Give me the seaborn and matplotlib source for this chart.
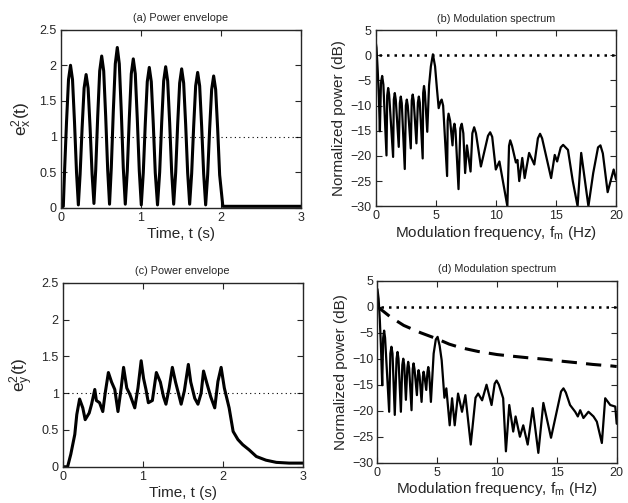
import numpy as np
import matplotlib
matplotlib.use("Agg")
import matplotlib.pyplot as plt
import seaborn as sns

sns.set_style("ticks")
plt.rcParams["font.family"] = ["Liberation Sans", "DejaVu Sans"]
plt.rcParams["mathtext.fontset"] = "custom"
plt.rcParams["mathtext.rm"] = "Liberation Sans"
plt.rcParams["mathtext.it"] = "Liberation Sans"
plt.rcParams["mathtext.default"] = "regular"
plt.rcParams["axes.linewidth"] = 1.0

#### (a) power envelope, input x ####
t_a = [0.0, 0.03, 0.045, 0.07, 0.095, 0.12, 0.145, 0.17, 0.195, 0.218,
       0.24, 0.265, 0.29, 0.315, 0.34, 0.365, 0.39, 0.413,
       0.435, 0.46, 0.485, 0.51, 0.535, 0.56, 0.585, 0.608,
       0.63, 0.655, 0.68, 0.705, 0.73, 0.755, 0.78, 0.805,
       0.83, 0.855, 0.88, 0.905, 0.93, 0.955, 0.98, 1.005,
       1.03, 1.055, 1.08, 1.105, 1.13, 1.155, 1.18, 1.208,
       1.235, 1.26, 1.285, 1.31, 1.335, 1.36, 1.385, 1.41,
       1.435, 1.46, 1.485, 1.51, 1.535, 1.56, 1.585, 1.61,
       1.635, 1.66, 1.685, 1.71, 1.735, 1.76, 1.785, 1.81,
       1.835, 1.86, 1.885, 1.91, 1.935, 1.96, 1.985, 2.025, 3.0]
e_a = [0.0, 0.02, 0.50, 1.20, 1.80, 2.00, 1.80, 1.20, 0.50, 0.04,
       0.47, 1.12, 1.68, 1.87, 1.68, 1.12, 0.47, 0.06,
       0.53, 1.28, 1.92, 2.13, 1.92, 1.28, 0.53, 0.05,
       0.56, 1.35, 2.02, 2.25, 2.02, 1.35, 0.56, 0.05,
       0.52, 1.25, 1.88, 2.09, 1.88, 1.25, 0.52, 0.04,
       0.49, 1.18, 1.77, 1.97, 1.77, 1.18, 0.49, 0.04,
       0.50, 1.19, 1.78, 1.98, 1.78, 1.19, 0.50, 0.05,
       0.49, 1.17, 1.75, 1.95, 1.75, 1.17, 0.49, 0.05,
       0.48, 1.14, 1.71, 1.90, 1.71, 1.14, 0.48, 0.04,
       0.46, 1.11, 1.66, 1.85, 1.66, 1.11, 0.46, 0.02, 0.02]

#### (c) power envelope, output y ####
t_c = [0.0, 0.06, 0.1, 0.15, 0.175, 0.21, 0.25, 0.28, 0.33, 0.36, 0.4, 0.42,
       0.46, 0.5, 0.53, 0.57, 0.61, 0.65, 0.69, 0.73, 0.76, 0.8, 0.84, 0.9,
       0.94, 0.98, 1.01, 1.04, 1.07, 1.12, 1.17, 1.22, 1.26, 1.29, 1.33, 1.37,
       1.41, 1.45, 1.48, 1.52, 1.57, 1.6, 1.65, 1.69, 1.73, 1.76, 1.8, 1.85,
       1.9, 1.94, 1.98, 2.02, 2.08, 2.13, 2.19, 2.25, 2.33, 2.42, 2.54, 2.67,
       2.83, 3.0]
e_c = [0.0, 0.0, 0.17, 0.44, 0.71, 0.92, 0.8, 0.64, 0.73, 0.85, 1.05, 0.9,
       0.87, 0.75, 1.0, 1.28, 1.15, 1.05, 0.75, 1.07, 1.35, 1.07, 0.98, 0.8,
       1.07, 1.44, 1.2, 1.05, 0.87, 0.9, 1.28, 1.15, 0.95, 0.85, 1.07, 1.35,
       1.15, 0.98, 0.85, 1.03, 1.39, 1.15, 0.93, 0.85, 1.0, 1.3, 1.14, 0.95,
       0.8, 1.16, 1.35, 1.07, 0.8, 0.48, 0.37, 0.3, 0.23, 0.14, 0.09, 0.06,
       0.05, 0.05]

#### (b) modulation spectrum of x ####
f_b = [0.0, 0.08, 0.18, 0.28, 0.36, 0.45, 0.55, 0.65, 0.91, 0.97, 1.05, 1.13,
       1.46, 1.52, 1.6, 1.68, 1.93, 2.02, 2.1, 2.18, 2.43, 2.52, 2.6, 2.68,
       2.93, 3.01, 3.09, 3.17, 3.4, 3.52, 3.6, 3.68, 3.92, 3.96, 4.03, 4.1,
       4.3, 4.45, 4.6, 4.77, 4.95, 5.1, 5.25, 5.4, 5.5, 5.62, 5.95, 6.0,
       6.07, 6.2, 6.4, 6.48, 6.56, 6.65, 6.9, 7.05, 7.17, 7.3, 7.45, 7.6,
       7.9, 8.05, 8.2, 8.35, 8.76, 9.35, 9.53, 9.7, 10.0, 10.3, 10.96, 11.1,
       11.2, 11.35, 11.67, 11.8, 11.95, 12.2, 12.4, 12.77, 13.2, 13.5, 13.68, 13.85,
       14.6, 14.9, 15.1, 15.4, 15.6, 16.0, 16.4, 16.8, 17.1, 17.7, 18.1, 18.5,
       18.7, 18.9, 19.3, 19.8, 20.0]
p_b = [2.9, 1.5, -3.0, -8.5, -15.1, -5.5, -4.1, -5.8, -19.9, -8.0, -6.5, -7.8,
       -20.2, -8.8, -7.5, -8.8, -18.2, -9.5, -8.2, -9.5, -22.6, -10.0, -8.8, -10.0,
       -18.5, -9.0, -7.8, -9.0, -17.5, -9.4, -8.2, -9.4, -20.5, -7.5, -6.1, -7.3,
       -15.2, -6.0, -2.2, 0.2, -2.2, -6.5, -10.5, -9.2, -8.8, -10.0, -24.0, -13.0,
       -11.6, -13.0, -17.9, -14.5, -13.6, -15.0, -26.6, -14.5, -13.6, -15.5, -23.4, -17.9,
       -23.1, -15.5, -14.3, -15.5, -22.1, -16.0, -15.3, -16.2, -22.7, -21.1, -30.0, -18.0,
       -16.9, -18.0, -21.3, -20.8, -25.0, -20.4, -24.4, -19.4, -21.7, -16.5, -15.6, -16.5,
       -24.4, -19.8, -21.1, -18.3, -17.8, -18.8, -25.0, -30.0, -19.4, -30.0, -23.4, -18.3,
       -17.9, -19.5, -27.2, -22.7, -24.7]

#### (d) modulation spectrum of y ####
f_d = [0.0, 0.1, 0.2, 0.3, 0.4, 0.48, 0.56, 0.64, 0.98, 1.08, 1.17, 1.26,
       1.45, 1.6, 1.68, 1.76, 1.96, 2.08, 2.16, 2.24, 2.38, 2.5, 2.57, 2.65,
       2.85, 2.95, 3.02, 3.1, 3.3, 3.38, 3.44, 3.52, 3.69, 3.8, 3.86, 3.94,
       4.08, 4.18, 4.25, 4.32, 4.47, 4.7, 4.88, 5.03, 5.2, 5.37, 5.6, 5.76,
       6.04, 6.24, 6.46, 6.74, 7.07, 7.35, 7.8, 8.2, 8.42, 8.75, 9.12, 9.54,
       9.8, 9.96, 10.15, 10.51, 10.74, 11.02, 11.35, 11.55, 11.91, 12.19, 12.56, 12.98,
       13.45, 13.87, 14.51, 15.35, 15.55, 15.75, 16.1, 16.53, 16.75, 16.95, 17.22, 17.64,
       18.06, 18.34, 18.76, 19.04, 19.46, 19.88, 20.0]
p_d = [3.4, 1.5, -2.5, -8.0, -15.1, -6.0, -4.6, -6.0, -20.2, -9.0, -7.7, -9.0,
       -20.8, -10.0, -8.7, -10.0, -20.2, -11.2, -10.0, -11.2, -17.9, -11.8, -10.6, -11.8,
       -19.9, -12.0, -10.9, -12.0, -17.0, -13.2, -12.2, -13.2, -18.3, -13.5, -12.5, -13.5,
       -16.0, -12.6, -11.6, -12.6, -18.3, -9.0, -6.3, -5.8, -7.5, -10.3, -17.5, -15.7,
       -22.8, -17.6, -22.8, -16.7, -20.2, -17.0, -26.5, -17.5, -16.7, -18.0, -15.0, -18.9,
       -14.8, -14.2, -15.0, -17.6, -27.8, -18.9, -24.0, -21.1, -25.0, -22.8, -26.5, -19.5,
       -28.1, -18.5, -25.2, -16.3, -15.7, -16.5, -18.9, -20.2, -21.1, -19.9, -21.4, -20.2,
       -21.1, -22.1, -26.2, -17.6, -18.9, -19.2, -22.5]

# dashed reference curve in (d)
f_ref = [0.0, 0.5, 1.1, 2.2, 3.6, 5.0, 6.0, 7.0, 8.4, 10.0, 11.2, 12.5,
         14.0, 15.5, 16.8, 18.0, 19.6, 20.0]
p_ref = [0.0, -0.9, -2.0, -3.6, -5.0, -6.2, -7.2, -7.9, -8.6, -9.2, -9.5, -9.8,
         -10.1, -10.5, -10.8, -11.1, -11.4, -11.5]


def style_axes(ax):
    ax.tick_params(direction="in", top=True, right=True, length=4, width=0.8,
                   labelsize=9, pad=3)
    for s in ax.spines.values():
        s.set_visible(True)
        s.set_linewidth(1.0)


def envelope(ax, t, e, title, ylab):
    sns.lineplot(x=t, y=e, ax=ax, color="k", lw=2.2, sort=False, estimator=None)
    ax.axhline(1.0, color="k", lw=0.8, ls=(0, (1, 3)))
    ax.set_xlim(0, 3)
    ax.set_ylim(0, 2.5)
    ax.set_xticks([0, 1, 2, 3])
    ax.set_yticks([0, 0.5, 1, 1.5, 2, 2.5])
    ax.set_yticklabels(["0", "0.5", "1", "1.5", "2", "2.5"])
    ax.set_xlabel("Time, t (s)", fontsize=11, labelpad=2)
    ax.set_ylabel(ylab, fontsize=12.5, labelpad=4)
    ax.set_title(title, fontsize=7.8, pad=6)
    style_axes(ax)


def spectrum(ax, f, p, title):
    sns.lineplot(x=f, y=p, ax=ax, color="k", lw=1.6, sort=False, estimator=None)
    ax.plot([0.3, 20], [0, 0], color="k", lw=1.8, ls=(0, (1, 2)))
    ax.set_xlim(0, 20)
    ax.set_ylim(-30, 5)
    ax.set_xticks([0, 5, 10, 15, 20])
    ax.set_yticks([-30, -25, -20, -15, -10, -5, 0, 5])
    ax.set_xlabel(r"Modulation frequency, $f_m$ (Hz)", fontsize=11, labelpad=1)
    ax.set_ylabel("Normalized power (dB)", fontsize=11, labelpad=3)
    ax.set_title(title, fontsize=7.8, pad=6)
    style_axes(ax)


fig = plt.figure(figsize=(6.28, 5.03), dpi=100)
ax_a = fig.add_axes([0.097, 0.587, 0.382, 0.354])
ax_b = fig.add_axes([0.598, 0.590, 0.383, 0.350])
ax_c = fig.add_axes([0.100, 0.072, 0.382, 0.366])
ax_d = fig.add_axes([0.601, 0.080, 0.381, 0.362])

envelope(ax_a, t_a, e_a, "(a) Power envelope", r"$e_x^2(t)$")
spectrum(ax_b, f_b, p_b, "(b) Modulation spectrum")
envelope(ax_c, t_c, e_c, "(c) Power envelope", r"$e_y^2(t)$")
spectrum(ax_d, f_d, p_d, "(d) Modulation spectrum")
sns.lineplot(x=f_ref, y=p_ref, ax=ax_d, color="k", lw=2.2, sort=False, estimator=None)
ax_d.lines[-1].set_linestyle((0, (5, 3)))

fig.savefig("out.png", dpi=100)
